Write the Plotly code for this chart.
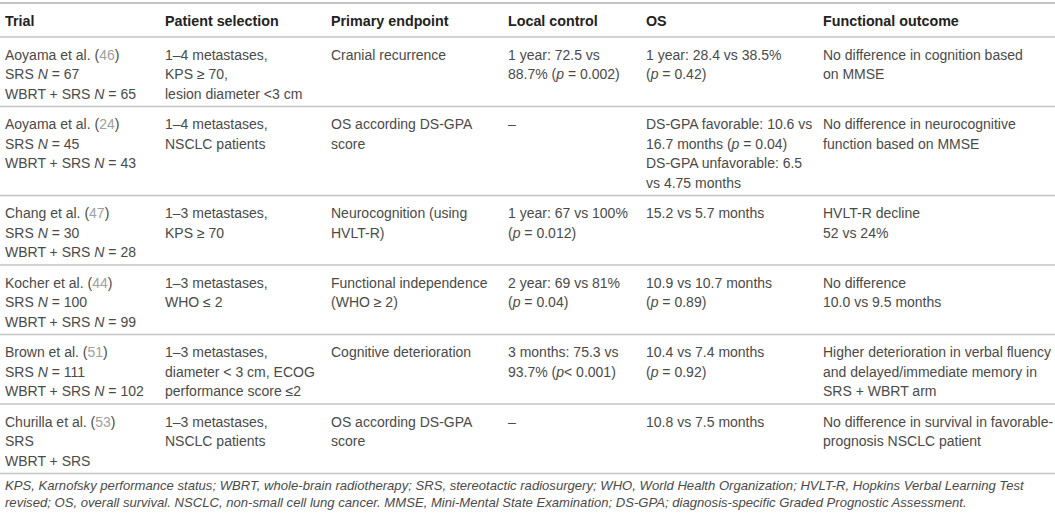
import plotly.graph_objects as go

# ---- table content ----
headers = ["Trial", "Patient selection", "Primary endpoint", "Local control", "OS", "Functional outcome"]

trial_names = ["Aoyama et al.", "Aoyama et al.", "Chang et al.", "Kocher et al.", "Brown et al.", "Churilla et al."]
trial_refs = ["46", "24", "47", "44", "51", "53"]
srs_n = [67, 45, 30, 100, 111, None]
wbrt_srs_n = [65, 43, 28, 99, 102, None]

patient_selection = [
    ["1–4 metastases,", "KPS ≥ 70,", "lesion diameter <3 cm"],
    ["1–4 metastases,", "NSCLC patients"],
    ["1–3 metastases,", "KPS ≥ 70"],
    ["1–3 metastases,", "WHO ≤ 2"],
    ["1–3 metastases,", "diameter < 3 cm, ECOG", "performance score ≤2"],
    ["1–3 metastases,", "NSCLC patients"],
]

primary_endpoint = [
    ["Cranial recurrence"],
    ["OS according DS-GPA", "score"],
    ["Neurocognition (using", "HVLT-R)"],
    ["Functional independence", "(WHO ≥ 2)"],
    ["Cognitive deterioration"],
    ["OS according DS-GPA", "score"],
]

local_control = [
    ["1 year: 72.5 vs", "88.7% (<i>p</i> = 0.002)"],
    ["–"],
    ["1 year: 67 vs 100%", "(<i>p</i> = 0.012)"],
    ["2 year: 69 vs 81%", "(<i>p</i> = 0.04)"],
    ["3 months: 75.3 vs", "93.7% (<i>p</i>< 0.001)"],
    ["–"],
]

overall_survival = [
    ["1 year: 28.4 vs 38.5%", "(<i>p</i> = 0.42)"],
    ["DS-GPA favorable: 10.6 vs", "16.7 months (<i>p</i> = 0.04)", "DS-GPA unfavorable: 6.5", "vs 4.75 months"],
    ["15.2 vs 5.7 months"],
    ["10.9 vs 10.7 months", "(<i>p</i> = 0.89)"],
    ["10.4 vs 7.4 months", "(<i>p</i> = 0.92)"],
    ["10.8 vs 7.5 months"],
]

functional_outcome = [
    ["No difference in cognition based", "on MMSE"],
    ["No difference in neurocognitive", "function based on MMSE"],
    ["HVLT-R decline", "52 vs 24%"],
    ["No difference", "10.0 vs 9.5 months"],
    ["Higher deterioration in verbal fluency", "and delayed/immediate memory in", "SRS + WBRT arm"],
    ["No difference in survival in favorable-", "prognosis NSCLC patient"],
]

footnote = [
    "KPS, Karnofsky performance status; WBRT, whole-brain radiotherapy; SRS, stereotactic radiosurgery; "
    "WHO, World Health Organization; HVLT-R, Hopkins Verbal Learning Test",
    "revised; OS, overall survival. NSCLC, non-small cell lung cancer. MMSE, Mini-Mental State Examination; "
    "DS-GPA; diagnosis-specific Graded Prognostic Assessment.",
]

# ---- layout constants ----
W, H = 1055, 515
col_x = [3, 163, 329, 506, 644, 821]
line_h = 19.5
row_pad = 11
first_off = 17.5
header_y = 20.7
header_rule = 37
FONT = "'Liberation Sans', Arial, Helvetica, sans-serif"
BODY_SIZE = 14
TXT = "#4a4a4a"
REF = "#a0a0a0"
RULE = "#c4c4c4"


def trial_cell(i):
    srs = "SRS" + (" <i>N</i> = %d" % srs_n[i] if srs_n[i] is not None else "")
    both = "WBRT + SRS" + (" <i>N</i> = %d" % wbrt_srs_n[i] if wbrt_srs_n[i] is not None else "")
    name = "%s (<span style='color:%s'>%s</span>)" % (trial_names[i], REF, trial_refs[i])
    return [name, srs, both]


rows = []
for i in range(len(trial_names)):
    rows.append([trial_cell(i), patient_selection[i], primary_endpoint[i],
                 local_control[i], overall_survival[i], functional_outcome[i]])

fig = go.Figure()
annotations = []
shapes = []


def hrule(y, width=1.5):
    shapes.append(dict(type="line", xref="x", yref="y", x0=0, x1=W, y0=y, y1=y,
                       line=dict(color=RULE, width=width)))


hrule(3, 2)
for c, h in enumerate(headers):
    annotations.append(dict(x=col_x[c], y=header_y, text="<b>" + h + "</b>", showarrow=False,
                            xanchor="left", yanchor="middle",
                            font=dict(family=FONT, size=14.3, color="#222222")))
hrule(header_rule)

top = header_rule
for row in rows:
    nlines = max(len(cell) for cell in row)
    for c, cell in enumerate(row):
        for k, txt in enumerate(cell):
            annotations.append(dict(x=col_x[c], y=top + first_off + k * line_h, text=txt,
                                    showarrow=False, xanchor="left", yanchor="middle",
                                    font=dict(family=FONT, size=BODY_SIZE, color=TXT)))
    top = top + nlines * line_h + row_pad
    hrule(top)

for k, txt in enumerate(footnote):
    annotations.append(dict(x=col_x[0], y=top + 12 + k * 17, text="<i>" + txt + "</i>",
                            showarrow=False, xanchor="left", yanchor="middle",
                            font=dict(family=FONT, size=13.1, color=TXT)))

fig.update_layout(
    width=W, height=H,
    margin=dict(l=0, r=0, t=0, b=0),
    paper_bgcolor="white", plot_bgcolor="white",
    xaxis=dict(range=[0, W], visible=False, fixedrange=True),
    yaxis=dict(range=[H, 0], visible=False, fixedrange=True),
    annotations=annotations,
    shapes=shapes,
    showlegend=False,
)

fig.write_html("out.html", config={"displayModeBar": False},
               post_script="document.body.style.margin='0';document.body.style.overflow='hidden';")
